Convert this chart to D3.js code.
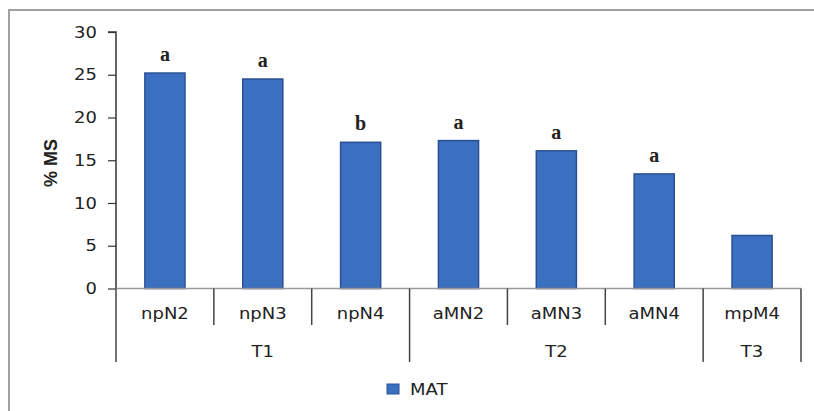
<!DOCTYPE html>
<html><head><meta charset="utf-8">
<script src="https://cdn.jsdelivr.net/npm/d3@7"></script>
<style>body{margin:0;background:#fff}svg{display:block}</style>
</head><body>
<script>
const categories = ["npN2","npN3","npN4","aMN2","aMN3","aMN4","mpM4"];
const groups = ["T1","T1","T1","T2","T2","T2","T3"];
const values = [25.2, 24.5, 17.1, 17.3, 16.1, 13.4, 6.2];
const letters = ["a","a","b","a","a","a",""];
const yTicks = [0,5,10,15,20,25,30];
const seriesName = "MAT";

const W = 814, H = 411;
const svg = d3.select("body").append("svg").attr("width", W).attr("height", H);
svg.append("rect").attr("width", W).attr("height", H).attr("fill", "#fff");
// frame (top & left visible)
svg.append("path").attr("d", `M9,${H} V10 H${W}`).attr("fill","none").attr("stroke","#a0a0a0").attr("stroke-width",2);

const x = d3.scaleBand().domain(categories).range([116, 801]).paddingInner(0).paddingOuter(0);
const y = d3.scaleLinear().domain([0, 30]).range([288.5, 32]);
const SX = 1.2;
const font = "'DejaVu Sans', Verdana, sans-serif";

function stext(g, tx, ty, str, anchor, size, weight, fam) {
  return g.append("text").attr("transform", `translate(${tx},${ty}) scale(${SX},1)`)
    .attr("text-anchor", anchor).attr("font-family", fam || font)
    .attr("font-size", size).attr("font-weight", weight || "normal")
    .attr("fill", "#222").text(str);
}

// y axis
const yAxis = d3.axisLeft(y).tickValues(yTicks).tickSize(8).tickFormat("");
const gy = svg.append("g").attr("transform", "translate(116,0)").call(yAxis);
gy.select(".domain").attr("stroke", "#333").attr("stroke-width", 1.5).attr("d", `M-8,${y(30)}H0V${y(0)}`);
gy.selectAll(".tick line").attr("stroke", "#333").attr("stroke-width", 1.2);
yTicks.forEach(t => stext(svg, 97, y(t) + 5.5, String(t), "end", 15));

// bars
const bw = x.bandwidth() * 0.41;
svg.append("g").selectAll("rect").data(values).join("rect")
  .attr("x", (d, i) => x(categories[i]) + x.bandwidth() / 2 - bw / 2)
  .attr("y", d => y(d))
  .attr("width", bw)
  .attr("height", d => y(0) - y(d))
  .attr("fill", "#3a70bf").attr("stroke", "#2a4f96").attr("stroke-width", 1.5);

// letters
letters.forEach((l, i) => {
  if (!l) return;
  svg.append("text").attr("x", x(categories[i]) + x.bandwidth() / 2).attr("y", y(values[i]) - 12)
    .attr("text-anchor", "middle").attr("font-family", "'Liberation Serif', serif")
    .attr("font-weight", "bold").attr("font-size", 20).attr("fill", "#222").text(l);
});

// x axis baseline
svg.append("line").attr("x1", 116).attr("x2", 801).attr("y1", y(0)).attr("y2", y(0))
  .attr("stroke", "#999").attr("stroke-width", 1.5);

// category separators
const bounds = categories.map(c => x(c)).concat([801]);
bounds.forEach((b, i) => {
  const isGroup = i === 0 || i === categories.length || groups[i] !== groups[i - 1];
  svg.append("line").attr("x1", b).attr("x2", b).attr("y1", y(0)).attr("y2", isGroup ? 362 : 325)
    .attr("stroke", "#444").attr("stroke-width", 1.5);
});
categories.forEach(c => stext(svg, x(c) + x.bandwidth() / 2, 319, c, "middle", 15));

// group labels
const gNames = Array.from(new Set(groups));
gNames.forEach(gname => {
  const idx = groups.map((g, i) => g === gname ? i : -1).filter(i => i >= 0);
  const x0 = x(categories[idx[0]]), x1 = x(categories[idx[idx.length - 1]]) + x.bandwidth();
  stext(svg, (x0 + x1) / 2, 357, gname, "middle", 15);
});

// y title
svg.append("text").attr("transform", `translate(57,163) rotate(-90)`)
  .attr("text-anchor", "middle").attr("font-family", "'Liberation Sans', Arial, sans-serif")
  .attr("font-weight", "bold").attr("font-size", 18).attr("fill", "#222").text("% MS");

// legend
svg.append("rect").attr("x", 387).attr("y", 384).attr("width", 12).attr("height", 10)
  .attr("fill", "#3a70bf").attr("stroke", "#2a4f96").attr("stroke-width", 1);
stext(svg, 410, 395, seriesName, "start", 15);
</script>
</body></html>
